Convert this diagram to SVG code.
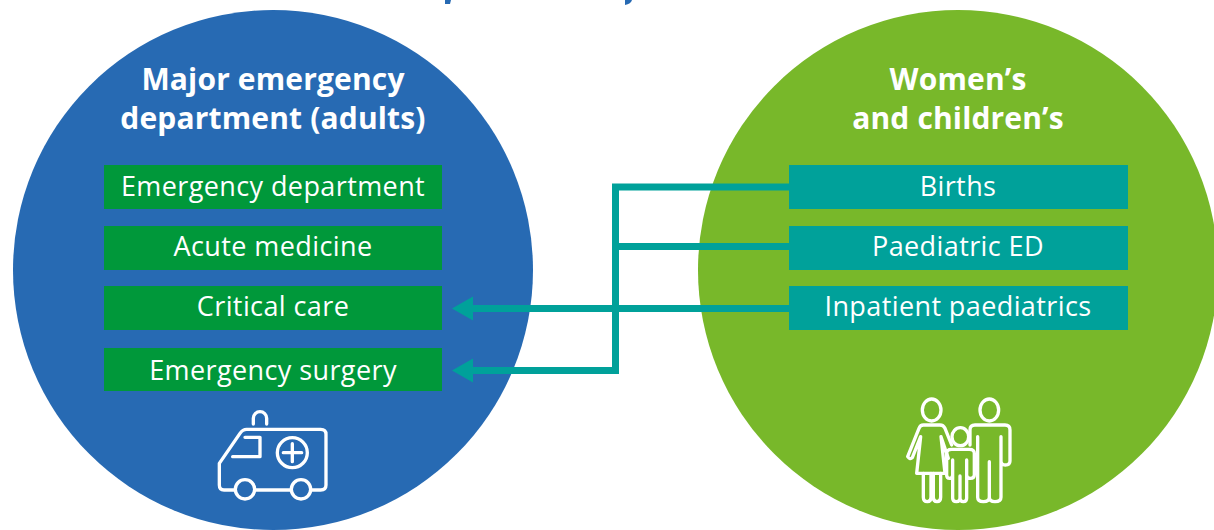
<svg xmlns="http://www.w3.org/2000/svg" width="1214" height="530" viewBox="0 0 1214 530">
<style>
text{font-family:"Open Sans","Noto Sans","Liberation Sans",sans-serif;text-anchor:middle;fill:#fff}
.h{font-size:30px;font-weight:700;letter-spacing:.15px}
.l{font-size:27px;letter-spacing:.4px}
.bg{fill:#00983a}
.bt{fill:#00a19a}
.c{fill:none;stroke:#00a19a;stroke-width:7}
.i{fill:none;stroke:#fff;stroke-width:10;stroke-linecap:round;stroke-linejoin:round}
</style>
<path d="M445 0H451L450 4H445ZM625 0H632Q631 4 625 5Z" fill="#276ab3"/>
<g id="adults">
<circle cx="273" cy="270" r="260" fill="#276ab3"/>
<text class="h" x="273" y="90">Major emergency</text>
<text class="h" x="273" y="129">department (adults)</text>
</g>
<g id="womens">
<circle cx="958" cy="270" r="260" fill="#78b82a"/>
<text class="h" x="958" y="90">Women’s</text>
<text class="h" x="958" y="129">and children’s</text>
</g>
<g id="emergency-department"><rect class="bg" x="104" y="165" width="338" height="44"/><text class="l" x="273" y="196">Emergency department</text></g>
<g id="acute-medicine"><rect class="bg" x="104" y="226" width="338" height="44"/><text class="l" x="273" y="256">Acute medicine</text></g>
<g id="critical-care"><rect class="bg" x="104" y="286" width="338" height="44"/><text class="l" x="273" y="316">Critical care</text></g>
<g id="emergency-surgery"><rect class="bg" x="104" y="348" width="338" height="43"/><text class="l" x="273" y="380">Emergency surgery</text></g>
<g id="connectors">
<path class="c" d="M789 187H615.500V370.500H470"/>
<path class="c" d="M789 246.500H615.500"/>
<path class="c" d="M789 308.500H470"/>
<path d="M452 308.500L473 296.500V320.500Z" fill="#00a19a"/>
<path d="M452 370.500L473 358.500V382.500Z" fill="#00a19a"/>
</g>
<g id="births"><rect class="bt" x="789" y="165" width="339" height="44"/><text class="l" x="958" y="196">Births</text></g>
<g id="paediatric-ed"><rect class="bt" x="789" y="226" width="339" height="44"/><text class="l" x="958" y="256">Paediatric ED</text></g>
<g id="inpatient-paediatrics"><rect class="bt" x="789" y="286" width="339" height="44"/><text class="l" x="958" y="316">Inpatient paediatrics</text></g>
<g id="ambulance" class="i" transform="translate(200 395) scale(.3333)">
<path d="M105 285H72Q58 285 58 270V205L120 115Q128 103 140 103H362Q378 103 378 118V270Q378 285 362 285H335M165 285H272"/>
<circle cx="135" cy="283" r="29"/><circle cx="303" cy="283" r="29"/>
<path d="M160 87V70A20 20 0 0 1 200 70V87"/>
<path d="M135 127H180V185H98"/>
<circle cx="277" cy="173" r="45"/>
<path d="M250 173H305M277 146V200"/>
</g>
<g id="family" class="i" transform="translate(895 390) scale(.3333)">
<ellipse cx="110" cy="60" rx="28" ry="33"/>
<ellipse cx="283" cy="60" rx="28" ry="33"/>
<ellipse cx="196" cy="140" rx="25" ry="27"/>
<path d="M138 140L150 250H65L77 140L52 203Q45 210 38 200L72 115Q76 105 85 105H135Q145 105 150 115L170 165M138 140L160 205"/>
<path d="M85 250V322Q85 335 97 335Q108 335 108 322V250M115 250V322Q115 335 126 335Q137 335 137 322V250"/>
<path d="M225 165V120Q225 105 240 105H330Q345 105 345 120V213Q345 225 331 225Q318 225 318 213V140M248 140V322Q248 335 265 335Q283 335 283 322V215V322Q283 335 300 335Q318 335 318 322V213"/>
<path d="M173 210V255Q173 265 164 265Q155 265 155 255V190Q155 178 170 178H223Q238 178 238 190V255Q238 265 226 265Q215 265 215 255V210M173 255V325Q173 335 184 335Q195 335 195 325V258V325Q195 335 205 335Q215 335 215 325V255"/>
</g>
</svg>
